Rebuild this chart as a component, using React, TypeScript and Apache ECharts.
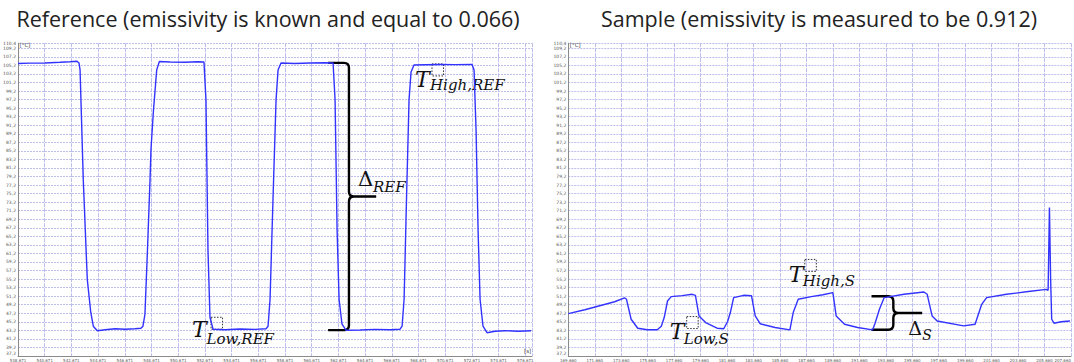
import React, { useEffect, useRef } from "react";
import * as echarts from "echarts";

// ---------- data ----------
const REF_TIME = [
  538.67, 539.57, 540.69, 541.82, 542.57, 543.09, 543.24, 543.32, 543.56, 543.86, 544.12, 544.31, 544.61,
  545.19, 545.94, 546.69, 547.43, 547.88,
  548.03, 548.18, 548.37, 548.56, 548.63, 548.82, 549.06, 549.26,
  550.06, 551.18, 552.15, 552.6,
  552.75, 552.9, 553.05, 553.28,
  554.18, 555.3, 556.42, 557.25,
  557.4, 557.55, 557.77, 558.0, 558.15, 558.37,
  559.42, 560.54, 561.67, 562.27,
  562.42, 562.57, 562.72, 562.94, 563.24,
  564.29, 565.41, 566.54, 567.29,
  567.44, 567.59, 567.77, 567.96, 568.11, 568.33,
  569.16, 570.28, 571.41, 572.68,
  572.83, 572.98, 573.13, 573.28, 573.5, 573.8,
  574.4, 575.15, 576.12, 577.1,
];
const REF_TEMP = [
  105.66, 105.73, 105.78, 105.94, 106.06, 106.18, 105.78, 104.15, 78.47, 55.14, 47.44, 44.17, 43.12,
  43.35, 43.58, 43.47, 43.58, 43.7,
  44.17, 46.97, 62.14, 78.47, 85.47, 94.81, 104.15, 106.13,
  106.01, 105.94, 106.06, 106.01,
  97.14, 62.14, 46.27, 43.47,
  43.35, 43.52, 43.42, 43.58,
  44.17, 50.47, 73.81, 97.14, 104.15, 105.78,
  105.66, 105.78, 105.83, 105.78,
  97.14, 66.81, 50.47, 44.64, 43.24,
  43.28, 43.42, 43.35, 43.47,
  44.17, 50.47, 73.81, 97.14, 103.68, 105.31,
  105.36, 105.43, 105.38, 105.43,
  104.15, 90.12, 66.81, 50.47, 44.17, 42.65,
  43.0, 43.12, 43.0, 43.12,
];

const SAMPLE_TIME = [
  169.66, 170.91, 172.04, 173.16, 173.91,
  174.06, 174.41, 174.91, 175.64, 176.39,
  176.69, 176.91, 177.16, 177.44, 178.26, 179.03, 179.27,
  179.54, 180.04, 180.91, 181.41,
  181.71, 181.91, 182.16, 182.91, 183.51,
  183.79, 184.16, 185.29, 186.41,
  186.66, 187.04, 188.03, 188.91, 189.66,
  189.91, 190.54, 191.53, 192.66,
  192.85, 193.18, 193.54, 195.04, 196.54, 196.79,
  197.16, 197.54, 199.54, 200.41,
  200.91, 201.28, 202.78, 204.28, 205.78, 205.93,
  206.03, 206.12, 206.2, 206.38, 206.91, 207.58,
];
const SAMPLE_TEMP = [
  47.13, 48.02, 48.95, 49.89, 50.82,
  50.47, 45.8, 43.7, 43.35, 43.35,
  44.17, 46.2, 50.07, 51.1, 51.33, 51.64, 51.4,
  46.57, 45.03, 43.7, 43.58,
  45.34, 47.37, 50.87, 51.4, 51.29,
  46.57, 44.75, 43.87, 43.31,
  47.37, 50.47, 51.1, 51.52, 52.03,
  46.57, 44.64, 43.87, 43.31,
  44.87, 48.14, 50.87, 51.64, 52.17, 51.64,
  46.57, 45.4, 44.24, 44.64,
  49.3, 50.87, 51.64, 52.22, 52.8, 52.57,
  71.94, 55.14, 45.8, 44.87, 45.22, 45.4,
];

const TITLES = [
  "Reference (emissivity is known and equal to 0.066)",
  "Sample (emissivity is measured to be 0.912)",
];
const Y_MIN = 37.2;
const Y_MAX = 110.4;
const Y_STEP = 2;
const X_STEP = 2;
const REF_X_MIN = 538.671;
const REF_X_MAX = 577.17;
const S_X_MIN = 169.66;
const S_X_MAX = 207.66;

// annotation anchors (data coordinates)
const REF_BRACE = { t0: 561.9, t: 563.46, tTip: 565.5, high: 105.8, low: 43.25 };
const S_BRACE = { t0: 192.58, t: 194.23, tTip: 196.41, high: 51.17, low: 43.35 };
const REF_HIGH_BOX = [569.68, 105.55];
const REF_LOW_BOX = [553.13, 46.27];
const S_HIGH_BOX = [187.54, 59.8];
const S_LOW_BOX = [178.61, 46.43];

const Brace = echarts.graphic.extendShape({
  shape: { x0: 0, xv: 0, y1: 0, y2: 0, xt: 0, r: 4 },
  buildPath(ctx: any, s: any) {
    const ym = (s.y1 + s.y2) / 2;
    const r = s.r;
    ctx.moveTo(s.x0, s.y1);
    ctx.lineTo(s.xv - r, s.y1);
    ctx.quadraticCurveTo(s.xv, s.y1, s.xv, s.y1 + r);
    ctx.lineTo(s.xv, ym - r);
    ctx.quadraticCurveTo(s.xv, ym, s.xv + r, ym);
    ctx.lineTo(s.xt, ym);
    ctx.moveTo(s.xv + r, ym);
    ctx.quadraticCurveTo(s.xv, ym, s.xv, ym + r);
    ctx.lineTo(s.xv, s.y2 - r);
    ctx.quadraticCurveTo(s.xv, s.y2, s.xv - r, s.y2);
    ctx.lineTo(s.x0, s.y2);
  },
});
echarts.graphic.registerShape("brace", Brace);

const comma = (s: string) => s.replace(".", ",");
const GRID_COLOR = "#bebeec";

function makeAxes(xMin: number, xMax: number, showMax: boolean, gridIndex: number) {
  const x = {
    type: "value",
    gridIndex,
    min: xMin,
    max: xMax,
    interval: X_STEP,
    axisLine: { show: true, onZero: false, lineStyle: { color: "#8a8a8a", width: 1 } },
    axisTick: { show: false },
    axisLabel: {
      fontSize: 4,
      color: "#555",
      margin: 2,
      fontFamily: "DejaVu Sans",
      showMinLabel: true,
      showMaxLabel: showMax,
      alignMaxLabel: "right",
      formatter: (v: number) => comma((xMin + Math.round((v - xMin) / X_STEP) * X_STEP).toFixed(3)),
    },
    splitLine: { show: true, lineStyle: { color: GRID_COLOR, width: 1, type: [4, 1] } },
  };
  const y = {
    type: "value",
    gridIndex,
    min: Y_MIN,
    max: Y_MAX,
    interval: Y_STEP,
    axisLine: { show: true, lineStyle: { color: "#8a8a8a", width: 1 } },
    axisTick: { show: false },
    axisLabel: {
      fontSize: 4.5,
      color: "#555",
      margin: 2,
      fontFamily: "DejaVu Sans",
      showMinLabel: true,
      showMaxLabel: true,
      verticalAlignMinLabel: "bottom",
      formatter: (v: number) => comma(v.toFixed(1)),
    },
    splitLine: { show: true, lineStyle: { color: GRID_COLOR, width: 1, type: [2, 1] } },
  };
  return { x, y };
}

export default function App() {
  const ref = useRef<HTMLDivElement>(null);
  useEffect(() => {
    if (!ref.current) return;
    const chart = echarts.init(ref.current, undefined, { renderer: "svg" });
    const a0 = makeAxes(REF_X_MIN, REF_X_MAX, false, 0);
    const a1 = makeAxes(S_X_MIN, S_X_MAX, true, 1);
    chart.setOption({
      animation: false,
      backgroundColor: "#ffffff",
      grid: [
        { left: 18, top: 43.2, width: 514, height: 313.8 },
        { left: 568.3, top: 43.2, width: 506.7, height: 313.8 },
      ],
      xAxis: [a0.x, a1.x],
      yAxis: [a0.y, a1.y],
      series: [
        {
          type: "line",
          xAxisIndex: 0,
          yAxisIndex: 0,
          showSymbol: false,
          lineStyle: { color: "#3333ff", width: 1.4 },
          data: REF_TIME.map((t, i) => [t, REF_TEMP[i]]),
        },
        {
          type: "line",
          xAxisIndex: 1,
          yAxisIndex: 1,
          showSymbol: false,
          lineStyle: { color: "#3333ff", width: 1.4 },
          data: SAMPLE_TIME.map((t, i) => [t, SAMPLE_TEMP[i]]),
        },
      ],
    });

    const p0 = (t: number, v: number) => chart.convertToPixel({ gridIndex: 0 }, [t, v]) as number[];
    const p1 = (t: number, v: number) => chart.convertToPixel({ gridIndex: 1 }, [t, v]) as number[];

    const serif = "'DejaVu Serif', 'Liberation Serif', serif";
    const txt = (x: number, y: number, text: string, size: number, italic: boolean) => ({
      type: "text",
      x,
      y,
      style: {
        text,
        fontSize: size,
        fontFamily: serif,
        fontStyle: italic ? "italic" : "normal",
        fill: "#111",
        verticalAlign: "middle",
        align: "left",
      },
    });
    const box = (b: number[]) => ({
      type: "rect",
      shape: { x: b[0], y: b[1], width: 11.5, height: 12 },
      style: { fill: "none", stroke: "#333", lineWidth: 1, lineDash: [1.5, 1.5] },
    });
    const brace = (pTop0: number[], pTop: number[], pBot: number[], pTip: number[]) => ({
      type: "brace",
      shape: { x0: pTop0[0], xv: pTop[0], y1: pTop[1], y2: pBot[1], xt: pTip[0], r: 5 },
      style: { fill: "none", stroke: "#000", lineWidth: 2.4 },
    });

    const rb0 = p0(REF_BRACE.t0, REF_BRACE.high);
    const rbT = p0(REF_BRACE.t, REF_BRACE.high);
    const rbB = p0(REF_BRACE.t, REF_BRACE.low);
    const rbTip = p0(REF_BRACE.tTip, REF_BRACE.low);
    const rym = (rbT[1] + rbB[1]) / 2;

    const sb0 = p1(S_BRACE.t0, S_BRACE.high);
    const sbT = p1(S_BRACE.t, S_BRACE.high);
    const sbB = p1(S_BRACE.t, S_BRACE.low);
    const sbTip = p1(S_BRACE.tTip, S_BRACE.low);
    const sym = (sbT[1] + sbB[1]) / 2;

    const rh = p0(REF_HIGH_BOX[0], REF_HIGH_BOX[1]);
    const rl = p0(REF_LOW_BOX[0], REF_LOW_BOX[1]);
    const sh = p1(S_HIGH_BOX[0], S_HIGH_BOX[1]);
    const sl = p1(S_LOW_BOX[0], S_LOW_BOX[1]);

    const yTop0 = p0(REF_X_MIN, Y_MAX);
    const yTop1 = p1(S_X_MIN, Y_MAX);
    const xEnd0 = p0(REF_X_MAX, Y_MIN);

    const small = (x: number, y: number, text: string) => ({
      type: "text",
      x,
      y,
      style: { text, fontSize: 5.5, fontFamily: "DejaVu Sans", fill: "#444", verticalAlign: "middle", align: "left" },
    });
    const titleFont = "'Open Sans', 'Noto Sans', sans-serif";

    chart.setOption({
      graphic: [
        {
          type: "text",
          x: 268,
          y: 18,
          style: { text: TITLES[0], fontSize: 21.5, fontFamily: titleFont, fill: "#222", align: "center", verticalAlign: "middle" },
        },
        {
          type: "text",
          x: 819,
          y: 18,
          style: { text: TITLES[1], fontSize: 21.5, fontFamily: titleFont, fill: "#222", align: "center", verticalAlign: "middle" },
        },
        small(yTop0[0] + 1.5, yTop0[1] + 2, "[°C]"),
        small(yTop1[0] + 1.5, yTop1[1] + 2, "[°C]"),
        small(xEnd0[0] - 8, xEnd0[1] - 5, "[s]"),
        brace(rb0, rbT, rbB, rbTip),
        brace(sb0, sbT, sbB, sbTip),
        txt(rbT[0] + 9, rym - 17.5, "Δ", 21, false),
        txt(rbT[0] + 24, rym - 10, "REF", 15, true),
        txt(sbT[0] + 15, sym + 15, "Δ", 19, false),
        txt(sbT[0] + 29, sym + 21.5, "S", 14, true),
        box(rh),
        txt(rh[0] - 17, rh[1] + 15.5, "T", 22, true),
        txt(rh[0] - 2, rh[1] + 21, "High,REF", 15, true),
        box(rl),
        txt(rl[0] - 19, rl[1] + 12, "T", 22, true),
        txt(rl[0] - 4.5, rl[1] + 22, "Low,REF", 15, true),
        box(sh),
        txt(sh[0] - 16, sh[1] + 15, "T", 22, true),
        txt(sh[0] - 2, sh[1] + 21.7, "High,S", 15, true),
        box(sl),
        txt(sl[0] - 17, sl[1] + 14.7, "T", 22, true),
        txt(sl[0] - 3, sl[1] + 22.7, "Low,S", 15, true),
      ],
    });
    return () => chart.dispose();
  }, []);
  return (
    <div
      ref={ref}
      style={{ position: "absolute", left: 0, top: 0, width: 1074, height: 362, background: "#fff" }}
    />
  );
}
